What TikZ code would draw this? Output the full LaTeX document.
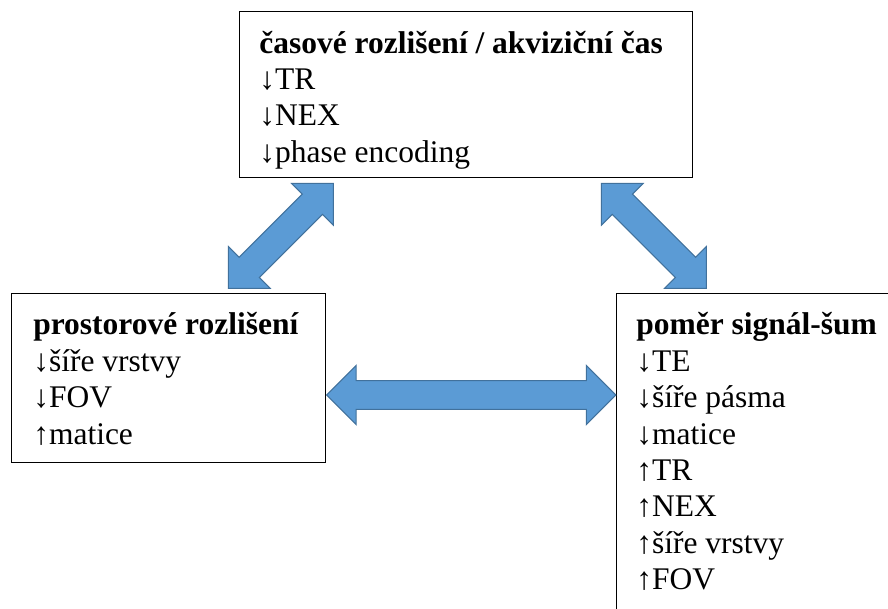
\documentclass[tikz,border=0pt]{standalone}
\usepackage{fontspec}
\setmainfont{Liberation Serif}
\usepackage{xcolor}
\usepackage{tikz}
\usetikzlibrary{shapes.arrows, positioning, calc}

\definecolor{arrowblue}{HTML}{5B9BD5}
\definecolor{arrowedge}{HTML}{41719C}

\begin{document}
\begin{tikzpicture}[
    % Node styles
    box/.style={rectangle, draw=black, line width=1pt, fill=white, anchor=north west, inner sep=0pt},
    boxtext/.style={align=left, inner sep=0pt, font=\fontsize{22.4}{25.9}\selectfont},
    dblarrow/.style={double arrow, draw=arrowedge, fill=arrowblue, line width=0.75pt, inner xsep=0pt, inner ysep=0.345cm, double arrow head extend=0.38cm, double arrow tip angle=90}
]

% Picture frame
\useasboundingbox (0,0) rectangle (22.2,-15.225);
\clip (0,0) rectangle (22.2,-15.225);

% Boxes
\node[box, minimum width=11.325cm, minimum height=4.15cm] (timebox) at (5.975, -0.275) {};
\node[box, minimum width=7.85cm, minimum height=4.225cm] (spatialbox) at (0.275, -7.325) {};
\node[box, minimum width=8cm, minimum height=9cm] (snrbox) at (15.4, -7.325) {};

% Box texts
\node[boxtext, below right=0.41cm and 0.5cm of timebox.north west] (timetext)
    {\strut\textbf{časové rozlišení / akviziční čas}\\↓TR\\↓NEX\\↓phase encoding};
\node[boxtext, below right=0.4cm and 0.55cm of spatialbox.north west] (spatialtext)
    {\strut\textbf{prostorové rozlišení}\\↓šíře vrstvy\\↓FOV\\↑matice};
\node[boxtext, below right=0.4cm and 0.5cm of snrbox.north west] (snrtext)
    {\strut\textbf{poměr signál-šum}\\↓TE\\↓šíře pásma\\↓matice\\↑TR\\↑NEX\\↑šíře vrstvy\\↑FOV};

% Arrow end points
\coordinate (tl) at (8.333, -4.583);
\coordinate (ls) at (5.708, -7.208);
\coordinate (tr) at (15.043, -4.583);
\coordinate (rs) at (17.65, -7.208);
\coordinate (hl) at (spatialbox.east |- 0,-9.875);
\coordinate (hr) at (snrbox.west |- 0,-9.875);

% Double arrows between boxes
\node[dblarrow, minimum height=3.71cm, rotate=45] (timespatial) at ($(tl)!0.5!(ls)$) {};
\node[dblarrow, minimum height=3.71cm, rotate=-45] (timesnr) at ($(tr)!0.5!(rs)$) {};
\node[dblarrow, minimum height=7.23cm] (spatialsnr) at ($(hl)!0.5!(hr)$) {};

\end{tikzpicture}
\end{document}
